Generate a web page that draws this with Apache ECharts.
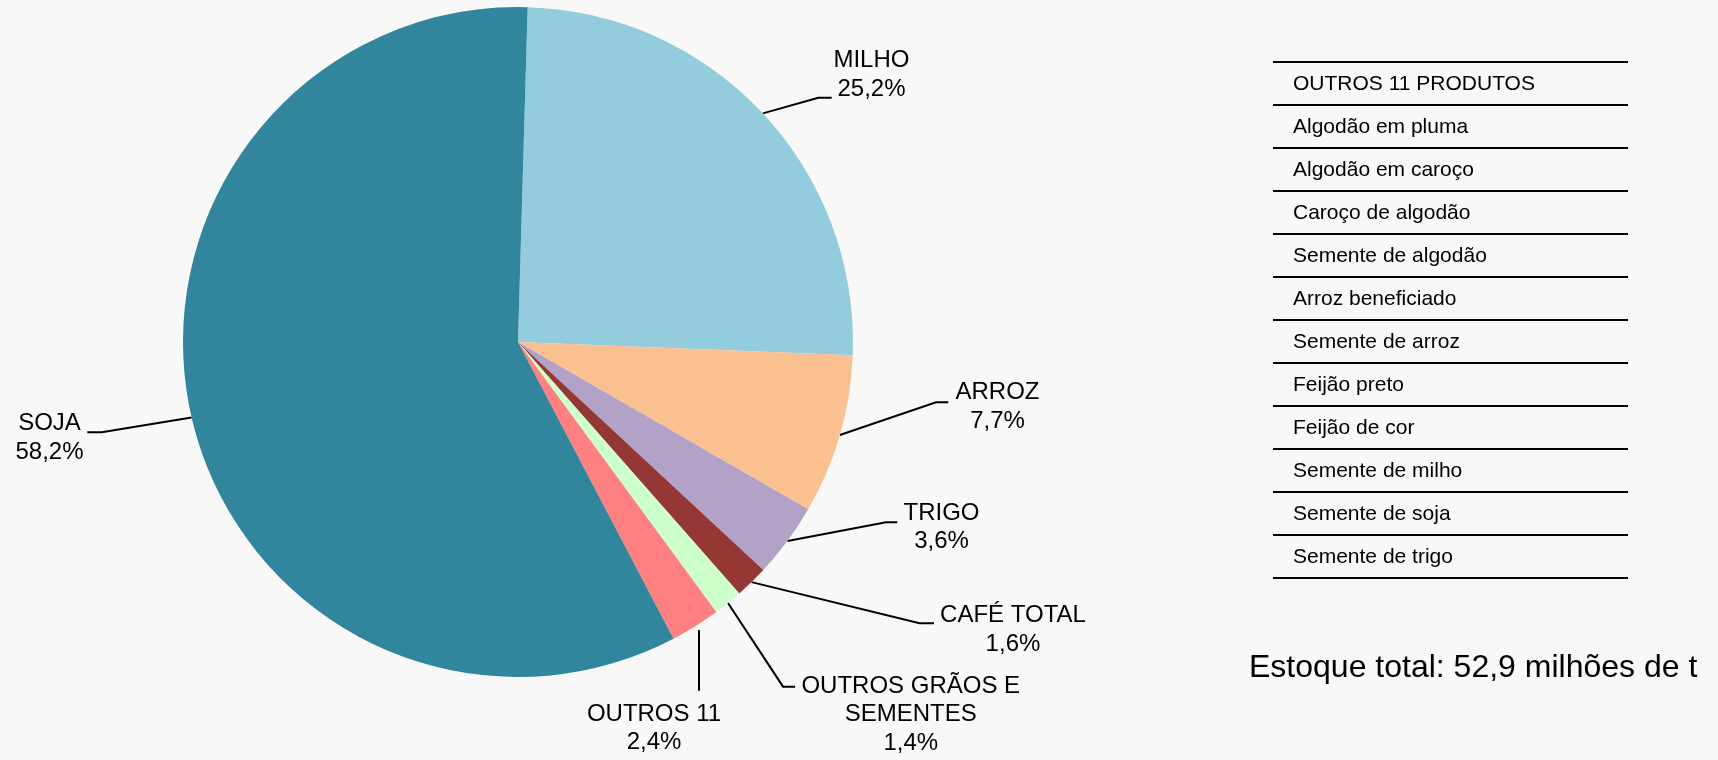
<!DOCTYPE html>
<html>
<head>
<meta charset="utf-8">
<style>
  html, body { margin: 0; background: #f8f8f8; }
  #chart { width: 1718px; height: 760px; }
</style>
<script src="https://cdn.jsdelivr.net/npm/echarts@6/dist/echarts.min.js"></script>
</head>
<body>
<div id="chart"></div>
<script>
// shares of the stock, clockwise from 12 o'clock
const categories = ['MILHO', 'ARROZ', 'TRIGO', 'CAFÉ TOTAL', 'OUTROS GRÃOS E\nSEMENTES', 'OUTROS 11', 'SOJA'];
const shares = [25.2, 7.7, 3.6, 1.6, 1.4, 2.4, 58.2];

const tableTitle = 'OUTROS 11 PRODUTOS';
const otherProducts = [
  'Algodão em pluma',
  'Algodão em caroço',
  'Caroço de algodão',
  'Semente de algodão',
  'Arroz beneficiado',
  'Semente de arroz',
  'Feijão preto',
  'Feijão de cor',
  'Semente de milho',
  'Semente de soja',
  'Semente de trigo',
];
const totalText = 'Estoque total: 52,9 milhões de t';

const colors = ['#93CDDD', '#FAC090', '#B3A2C7', '#953735', '#CCFFCC', '#FF8080', '#31859C'];
const font = '"Liberation Sans", Arial, sans-serif';

// label placement, offsets from the slice's outer edge point (label centre, line bend, line end)
const labelPlace = [
  { lab: [108.6, -38.4], bend: [55.4, -15.7], end: [68.8, -15.7] },
  { lab: [157.7, -28.1], bend: [96.2, -32.8], end: [108.5, -32.8] },
  { lab: [154, -13.5], bend: [98.5, -18.7], end: [109.8, -18.7] },
  { lab: [261.4, 47.8], bend: [168, 41], end: [182.4, 41] },
  { lab: [182.8, 111.6], bend: [55.1, 83.6], end: [67.1, 83.6] },
  { lab: [-41.4, 102.2], start: [3.6, 3.9], bend: [3.6, 64.6], end: [3.6, 64.6] },
  { lab: [-142.1, 20.6], bend: [-89.9, 14.9], end: [-104.3, 14.9] },
];

const fmtPct = v => v.toFixed(1).replace('.', ',') + '%';

// table of the 11 other products
const tableLeft = 1273;
const tableRight = 1628;
const tableTop = 62;
const rowH = 43;
const tableRows = [tableTitle, ...otherProducts];
const graphics = [];
tableRows.forEach((t, i) => {
  graphics.push({
    type: 'text',
    x: 1293,
    y: tableTop + rowH * (i + 0.5) + 1,
    style: { text: t, fill: '#000', fontSize: 21, fontFamily: font, verticalAlign: 'middle' },
  });
});
for (let k = 0; k <= tableRows.length; k++) {
  const y = tableTop + rowH * k;
  graphics.push({
    type: 'line',
    shape: { x1: tableLeft, y1: y, x2: tableRight, y2: y },
    style: { stroke: '#000', lineWidth: 2 },
  });
}
graphics.push({
  type: 'text',
  x: 1249,
  y: 668,
  style: { text: totalText, fill: '#000', fontSize: 32, fontFamily: font, verticalAlign: 'middle' },
});

const chart = echarts.init(document.getElementById('chart'));
chart.setOption({
  animation: false,
  backgroundColor: '#f8f8f8',
  graphic: graphics,
  series: [
    {
      type: 'pie',
      center: [518, 342],
      radius: 335,
      startAngle: 88.35,
      clockwise: true,
      avoidLabelOverlap: false,
      silent: true,
      itemStyle: { borderWidth: 0 },
      label: {
        show: true,
        color: '#000',
        fontSize: 24,
        lineHeight: 28.5,
        fontFamily: font,
        formatter: p => `${p.name}\n${fmtPct(p.value)}`,
      },
      labelLine: { show: true, lineStyle: { color: '#000', width: 2 } },
      labelLayout: p => {
        const pl = labelPlace[p.dataIndex];
        const e = p.labelLinePoints ? p.labelLinePoints[0] : [p.rect.x, p.rect.y];
        const pt = d => [e[0] + d[0], e[1] + d[1]];
        return {
          x: e[0] + pl.lab[0],
          y: e[1] + pl.lab[1],
          align: 'center',
          verticalAlign: 'middle',
          labelLinePoints: [pt(pl.start || [0, 0]), pt(pl.bend), pt(pl.end)],
        };
      },
      data: categories.map((name, i) => ({
        name,
        value: shares[i],
        itemStyle: { color: colors[i] },
      })),
    },
  ],
});

window.addEventListener('resize', () => chart.resize());
</script>
</body>
</html>
